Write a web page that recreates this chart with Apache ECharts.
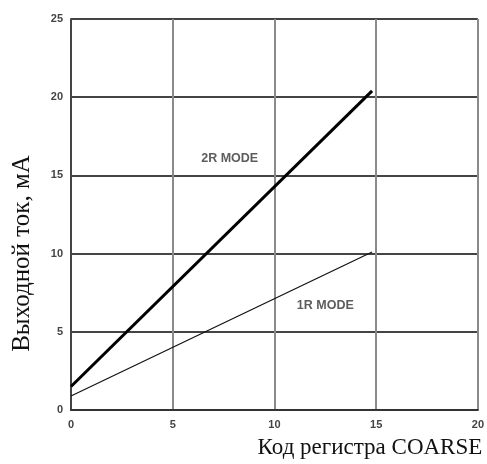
<!DOCTYPE html>
<html>
<head>
<meta charset="utf-8">
<script src="https://cdn.jsdelivr.net/npm/echarts@6/dist/echarts.min.js"></script>
<style>html,body{margin:0;padding:0;background:#fff;}#c{width:487px;height:464px;}</style>
</head>
<body>
<div id="c"></div>
<script>
var xTicks = [0, 5, 10, 15, 20];
var yTicks = [0, 5, 10, 15, 20, 25];
var mode2R = [[0, 1.5], [14.8, 20.4]];
var mode1R = [[0, 0.9], [14.8, 10.1]];
var labels = [
  {name: '2R MODE', value: [7.8, 16.1]},
  {name: '1R MODE', value: [12.5, 6.65]}
];
var xTitle = 'Код регистра COARSE';
var yTitle = 'Выходной ток, мА';

var chart = echarts.init(document.getElementById('c'), null, {renderer: 'canvas'});
chart.setOption({
  animation: false,
  backgroundColor: '#fff',
  grid: {left: 71, right: 7, top: 19, bottom: 54},
  xAxis: {
    type: 'value', min: xTicks[0], max: xTicks[xTicks.length - 1], interval: 5,
    name: xTitle, nameLocation: 'middle', nameGap: 26,
    nameTextStyle: {fontFamily: 'Liberation Serif', fontSize: 23, color: '#111', padding: [0, 0, 0, 191]},
    axisLine: {show: true, lineStyle: {color: '#333', width: 2}},
    axisTick: {show: false},
    axisLabel: {margin: 9, fontFamily: 'Liberation Sans', fontSize: 11, fontWeight: 'bold', color: '#444'},
    splitLine: {show: true, lineStyle: {color: '#8a8a8a', width: 2}}
  },
  yAxis: {
    type: 'value', min: yTicks[0], max: yTicks[yTicks.length - 1], interval: 5,
    name: yTitle, nameLocation: 'middle', nameGap: 36, nameRotate: 90,
    nameTextStyle: {fontFamily: 'Liberation Serif', fontSize: 25, color: '#111', padding: [0, 78, 0, 0]},
    axisLine: {show: true, lineStyle: {color: '#444', width: 2}},
    axisTick: {show: false},
    axisLabel: {margin: 8, fontFamily: 'Liberation Sans', fontSize: 11, fontWeight: 'bold', color: '#444'},
    splitLine: {show: true, lineStyle: {color: '#444', width: 2}}
  },
  series: [
    {type: 'line', data: mode2R, symbol: 'none', lineStyle: {color: '#000', width: 3}, z: 5},
    {type: 'line', data: mode1R, symbol: 'none', lineStyle: {color: '#111', width: 1.2}, z: 5},
    {type: 'scatter', data: labels, symbolSize: 0,
     label: {show: true, position: 'inside', formatter: '{b}', fontFamily: 'Liberation Sans', fontSize: 12.5, fontWeight: 'bold', color: '#333'}, z: 6}
  ]
});
</script>
</body>
</html>
